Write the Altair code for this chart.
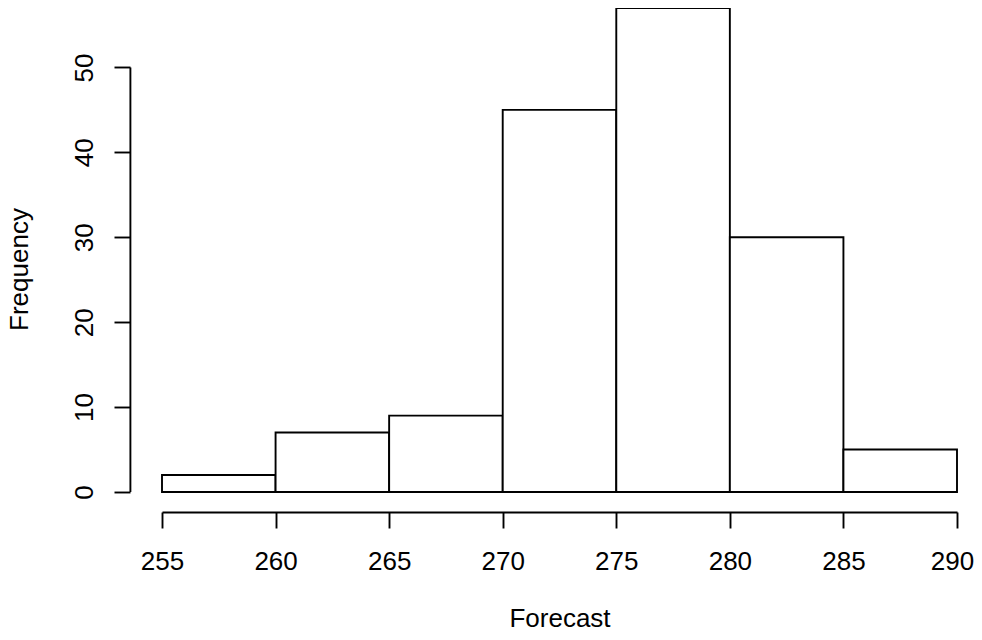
import altair as alt
import pandas as pd

bin_start = [255, 260, 265, 270, 275, 280, 285]
bin_end = [260, 265, 270, 275, 280, 285, 290]
counts = [2, 7, 9, 45, 57, 30, 5]
x_ticks = [255, 260, 265, 270, 275, 280, 285, 290]
y_ticks = [0, 10, 20, 30, 40, 50]

bars_df = pd.DataFrame({"start": bin_start, "end": bin_end, "count": counts})
yaxis_df = pd.DataFrame({"lo": [min(y_ticks)], "hi": [max(y_ticks)]})

FONT = "Liberation Sans"
FS = 26

xscale = alt.Scale(domain=[255, 290], nice=False, zero=False)
yscale = alt.Scale(domain=[0, 57], nice=False)

bars = alt.Chart(bars_df).mark_bar(
    fill="white", stroke="black", strokeWidth=1.9
).encode(
    x=alt.X("start:Q", scale=xscale,
            axis=alt.Axis(values=x_ticks, title="Forecast", offset=20, tickSize=16,
                          tickWidth=1.9, tickColor="black", domainColor="black",
                          domainWidth=1.9, grid=False, labelFont=FONT, labelFontSize=FS,
                          labelColor="black", labelBaseline="alphabetic", labelPadding=41,
                          labelFlush=False, labelOverlap=False,
                          labelOffset={"expr": f"datum.value == {max(x_ticks)} ? -5 : 0"},
                          titleFont=FONT, titleFontSize=FS, titleFontWeight="normal",
                          titleColor="black", titleBaseline="alphabetic",
                          titleY=114.5, titleX=397.5, titleAlign="center")),
    x2="end:Q",
    y=alt.Y("count:Q", scale=yscale,
            axis=alt.Axis(values=y_ticks, title="Frequency", offset=32, tickSize=16,
                          tickWidth=1.9, tickColor="black", domain=False, grid=False,
                          labelFont=FONT, labelFontSize=FS, labelColor="black",
                          labelAngle=270, labelAlign="center", labelBaseline="alphabetic",
                          labelPadding=21.7, labelFlush=False, labelOverlap=False,
                          titleFont=FONT, titleFontSize=FS, titleFontWeight="normal",
                          titleColor="black", titleAngle=270, titleAlign="center",
                          titleBaseline="alphabetic", titleX=-102.7, titleY=261)),
    y2=alt.datum(0),
)

yline = alt.Chart(yaxis_df).mark_rule(color="black", strokeWidth=1.9).encode(
    y=alt.Y("lo:Q", scale=yscale),
    y2="hi:Q",
    x=alt.value(-31.6),
)

chart = alt.layer(bars, yline).properties(
    width=795, height=484,
    autosize=alt.AutoSizeParams(type="none"),
    padding={"left": 154, "top": 0, "right": 17, "bottom": 136},
).configure_view(stroke=None)

chart.save("out.html", embed_options={"renderer": "svg", "actions": False})
